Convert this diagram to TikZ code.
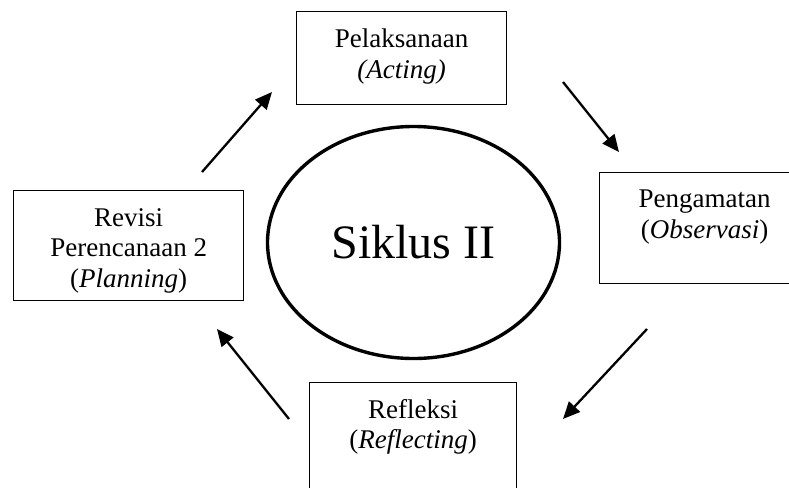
\documentclass[tikz,border=0pt]{standalone}
\usepackage{fontspec}
\setmainfont{Liberation Serif}
\usepackage{tikz}
\usetikzlibrary{positioning}
\usetikzlibrary{shapes.geometric}
\usetikzlibrary{arrows.meta}

\begin{document}
\begin{tikzpicture} [x=1pt, y=-1pt,
	kotak/.style 2 args={draw=black, line width=1.3pt, minimum width=#1, minimum height=#2, anchor=north west, inner sep=0pt},
	tulisan/.style={anchor=north, align=center, inner sep=0pt, font=\fontsize{27}{30.5}\selectfont},
	panah/.style={black, line width=2.3pt, -{Triangle[length=17pt, width=15pt]}}]
	\useasboundingbox (0, 0) rectangle (789, 487);
	\clip (0, 0) rectangle (789, 487);
	\node [draw=black, ellipse, line width=3.4pt, minimum width=292pt, minimum height=232pt, inner sep=0pt, font=\fontsize{48}{56}\selectfont] (siklus) at (413.5, 242.5) {Siklus II};
	\node [kotak={210pt}{93pt}] (pelaksanaan) at (296, 11) {};
	\node [tulisan, below=18pt of pelaksanaan.north] (pelaksanaanteks) {Pelaksanaan\\\textit{(Acting)}};
	\node [kotak={210pt}{111pt}] (pengamatan) at (599, 172) {};
	\node [tulisan, below=18pt of pengamatan.north] (pengamatanteks) {Pengamatan\\(\textit{Observasi})};
	\node [kotak={207pt}{110pt}] (refleksi) at (309, 382) {};
	\node [tulisan, below=17pt of refleksi.north] (refleksiteks) {Refleksi\\(\textit{Reflecting})};
	\node [kotak={230pt}{110pt}] (revisi) at (13, 190) {};
	\node [tulisan, below=18pt of revisi.north] (revisiteks) {Revisi\\Perencanaan 2\\(\textit{Planning})};
	\coordinate (revisiawal) at (202, 172);
	\coordinate (pelaksanaanakhir) at (272, 92);
	\coordinate (pelaksanaanawal) at (563, 82);
	\coordinate (pengamatanakhir) at (619, 152);
	\coordinate (pengamatanawal) at (647, 329);
	\coordinate (refleksiakhir) at (563, 419);
	\coordinate (refleksiawal) at (289, 419);
	\coordinate (revisiakhir) at (217, 329);
	\draw [panah] (revisiawal)--(pelaksanaanakhir);
	\draw [panah] (pelaksanaanawal)--(pengamatanakhir);
	\draw [panah] (pengamatanawal)--(refleksiakhir);
	\draw [panah] (refleksiawal)--(revisiakhir);
\end{tikzpicture}
\end{document}
